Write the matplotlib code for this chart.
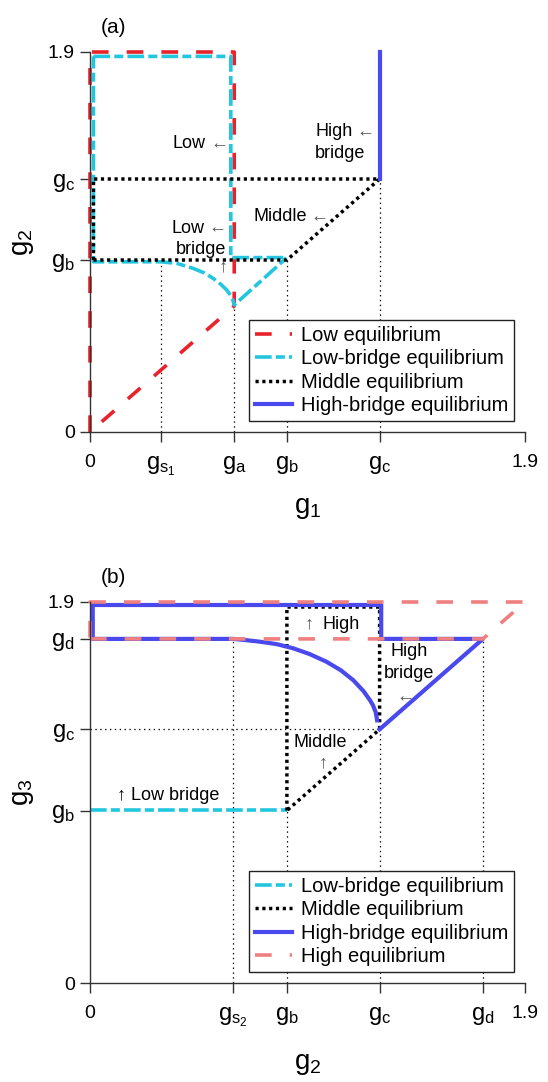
import numpy as np
import matplotlib
matplotlib.use('Agg')
import matplotlib.pyplot as plt

plt.rcParams['font.family'] = ['Liberation Sans', 'DejaVu Sans']
plt.rcParams['mathtext.fontset'] = 'custom'
plt.rcParams['mathtext.rm'] = 'Liberation Sans'
plt.rcParams['mathtext.it'] = 'Liberation Sans'
plt.rcParams['lines.scale_dashes'] = False

######
# key points
G_MAX = 1.9
g_s1, g_a, g_b, g_c = 0.31, 0.63, 0.86, 1.265
g_s2, g_d = 0.625, 1.716

# panel (a): g1 vs g2
low_x = [0, 0, g_a, g_a, 0]
low_y = [0, 1.9, 1.9, g_a, 0]

lowbr_a_x = [0.015, 0.615, 0.615, 0.86, 0.63, 0.624, 0.613, 0.597, 0.570, 0.538, 0.500, 0.451, 0.380, 0.310, 0.015, 0.015]
lowbr_a_y = [1.878, 1.878, 0.872, 0.872, 0.635, 0.660, 0.685, 0.710, 0.740, 0.768, 0.795, 0.818, 0.843, 0.851, 0.851, 1.878]

mid_a_x = [0.015, 0.015, 1.265, 0.86, 0.015]
mid_a_y = [0.86, 1.265, 1.265, 0.86, 0.86]

highbr_a_x = [1.265, 1.265]
highbr_a_y = [1.265, 1.9]

guide_a_x = [g_s1, g_a, g_b, g_c]
guide_a_top = [0.85, 0.63, 0.86, 1.265]

# panel (b): g2 vs g3
lowbr_b_x = [0, 0.86]
lowbr_b_y = [0.862, 0.862]

mid_b_x = [0.86, 0.86, 1.265, 1.265, 0.86]
mid_b_y = [0.86, 1.875, 1.875, 1.265, 0.86]

highbr_b_x = [1.254, 1.248, 1.236, 1.223, 1.195, 1.150, 1.095, 1.033, 0.960, 0.888, 0.815, 0.742, 0.680, 0.626,
              0.012, 0.012, 1.272, 1.272, 1.716, 1.265]
highbr_b_y = [1.310, 1.350, 1.385, 1.410, 1.455, 1.510, 1.560, 1.602, 1.640, 1.669, 1.690, 1.702, 1.710, 1.716,
              1.716, 1.885, 1.885, 1.716, 1.716, 1.265]

high_b_x = [0, 1.716, 1.9, 0, 0]
high_b_y = [1.716, 1.716, 1.9, 1.9, 1.716]

guide_b_x = [g_s2, g_b, g_c, g_d]
guide_b_top = [1.716, 0.86, 1.265, 1.716]

xt_a = [0, g_s1, g_a, g_b, g_c, G_MAX]
xt_a_lab = ['0', r'$g_{s_1}$', r'$g_a$', r'$g_b$', r'$g_c$', '1.9']
yt_a = [0, g_b, g_c, G_MAX]
yt_a_lab = ['0', r'$g_b$', r'$g_c$', '1.9']

xt_b = [0, g_s2, g_b, g_c, g_d, G_MAX]
xt_b_lab = ['0', r'$g_{s_2}$', r'$g_b$', r'$g_c$', r'$g_d$', '1.9']
yt_b = [0, g_b, g_c, g_d, G_MAX]
yt_b_lab = ['0', r'$g_b$', r'$g_c$', r'$g_d$', '1.9']

RED = '#e8232b'
CYAN = '#22c6df'
BLUE = '#4949ee'
PINK = '#ef8080'
ARROW = '#555555'

LW = 2.6
st_low = dict(color=RED, lw=LW, dashes=(12, 13), clip_on=False)
st_lowbr = dict(color=CYAN, lw=LW, dashes=(12, 3, 6.5, 3), clip_on=False)
st_mid = dict(color='black', lw=2.5, dashes=(2.3, 2.6), clip_on=False)
st_highbr = dict(color=BLUE, lw=3, ls='-', clip_on=False)
st_high = dict(color=PINK, lw=LW, dashes=(12, 13), clip_on=False)
st_guide = dict(color='black', lw=0.9, dashes=(1, 2.5), clip_on=False)


def Apply_Axes_Properties(ax, xt, xl, yt, yl, xlabel, ylabel, xlab_y):
    ax.set_xlim(0, G_MAX)
    ax.set_ylim(0, G_MAX)
    for s in ['top', 'right']:
        ax.spines[s].set_visible(False)
    for s in ['left', 'bottom']:
        ax.spines[s].set_color('#333333')
        ax.spines[s].set_linewidth(1.0)
    ax.set_xticks(xt)
    ax.set_xticklabels(xl)
    ax.set_yticks(yt)
    ax.set_yticklabels(yl)
    ax.tick_params(axis='x', direction='out', length=7, width=1, color='#333333', labelsize=14, pad=9)
    ax.tick_params(axis='y', direction='out', length=7, width=1, color='#333333', labelsize=14, pad=4)
    # the g-labels look bigger than the numbers
    for lab in ax.get_xticklabels() + ax.get_yticklabels():
        if '$' in lab.get_text():
            lab.set_fontsize(17)
    ax.set_xlabel(xlabel, fontsize=20)
    ax.set_ylabel(ylabel, fontsize=20)
    ax.xaxis.set_label_coords(0.5, xlab_y)
    ax.yaxis.set_label_coords(-0.125, 0.5)


def Legend(ax, handles, labels):
    leg = ax.legend(handles, labels, loc='lower right', bbox_to_anchor=(0.975, 0.028), fontsize=14.5,
                    fancybox=False, framealpha=1, edgecolor='#222222', borderpad=0.3, borderaxespad=0,
                    handlelength=1.8, handletextpad=0.45, labelspacing=0.22)
    leg.get_frame().set_linewidth(1.0)


fig = plt.figure(figsize=(5.48, 10.82), dpi=100)
ax1 = fig.add_axes([90/548, 1-432/1082, 435/548, 380/1082])
ax2 = fig.add_axes([90/548, 1-983/1082, 435/548, 381/1082])

#######################################################################################
""" panel (a) """
for x, top in zip(guide_a_x, guide_a_top):
    ax1.plot([x, x], [0, top], **st_guide)
h1, = ax1.plot(low_x, low_y, **st_low)
h2, = ax1.plot(lowbr_a_x, lowbr_a_y, **st_lowbr)
h3, = ax1.plot(mid_a_x, mid_a_y, **st_mid)
h4, = ax1.plot(highbr_a_x, highbr_a_y, **st_highbr)

TS = 13
ax1.text(0.362, 1.44, 'Low', fontsize=TS, va='center')
ax1.text(0.565, 1.44, '←', fontsize=TS, va='center', ha='center', color=ARROW)
ax1.text(0.983, 1.50, 'High', fontsize=TS, va='center')
ax1.text(1.203, 1.50, '←', fontsize=TS, va='center', ha='center', color=ARROW)
ax1.text(0.983, 1.39, 'bridge', fontsize=TS, va='center')
ax1.text(0.712, 1.077, 'Middle', fontsize=TS, va='center')
ax1.text(1.002, 1.077, '←', fontsize=TS, va='center', ha='center', color=ARROW)
ax1.text(0.358, 1.018, 'Low', fontsize=TS, va='center')
ax1.text(0.557, 1.018, '←', fontsize=TS, va='center', ha='center', color=ARROW)
ax1.text(0.376, 0.91, 'bridge', fontsize=TS, va='center')
ax1.text(0.581, 0.827, '↑', fontsize=TS, va='center', ha='center', color=ARROW)

Apply_Axes_Properties(ax1, xt_a, xt_a_lab, yt_a, yt_a_lab, r'$g_1$', r'$g_2$', -0.165)
Legend(ax1, [h1, h2, h3, h4], ['Low equilibrium', 'Low-bridge equilibrium', 'Middle equilibrium', 'High-bridge equilibrium'])
ax1.text(0.025, 1.04, '(a)', transform=ax1.transAxes, fontsize=15, va='bottom')

#######################################################################################
""" panel (b) """
for x, top in zip(guide_b_x, guide_b_top):
    ax2.plot([x, x], [0, top], **st_guide)
ax2.plot([0, g_c], [g_c, g_c], **st_guide)
k1, = ax2.plot(lowbr_b_x, lowbr_b_y, **st_lowbr)
k2, = ax2.plot(mid_b_x, mid_b_y, **st_mid)
k3, = ax2.plot(highbr_b_x, highbr_b_y, **st_highbr)
k4, = ax2.plot(high_b_x, high_b_y, **st_high)

ax2.text(0.956, 1.789, '↑', fontsize=TS, va='center', ha='center', color=ARROW)
ax2.text(1.017, 1.789, 'High', fontsize=TS, va='center')
ax2.text(1.393, 1.652, 'High', fontsize=TS, va='center', ha='center')
ax2.text(1.393, 1.541, 'bridge', fontsize=TS, va='center', ha='center')
ax2.text(1.378, 1.428, '←', fontsize=TS, va='center', ha='center', color=ARROW)
ax2.text(0.887, 1.199, 'Middle', fontsize=TS, va='center')
ax2.text(1.017, 1.097, '↑', fontsize=TS, va='center', ha='center', color=ARROW)
ax2.text(0.118, 0.933, '↑ Low bridge', fontsize=TS, va='center')

Apply_Axes_Properties(ax2, xt_b, xt_b_lab, yt_b, yt_b_lab, r'$g_2$', r'$g_3$', -0.178)
Legend(ax2, [k1, k2, k3, k4], ['Low-bridge equilibrium', 'Middle equilibrium', 'High-bridge equilibrium', 'High equilibrium'])
ax2.text(0.025, 1.04, '(b)', transform=ax2.transAxes, fontsize=15, va='bottom')

plt.savefig('out.png', dpi=100)
plt.close()
